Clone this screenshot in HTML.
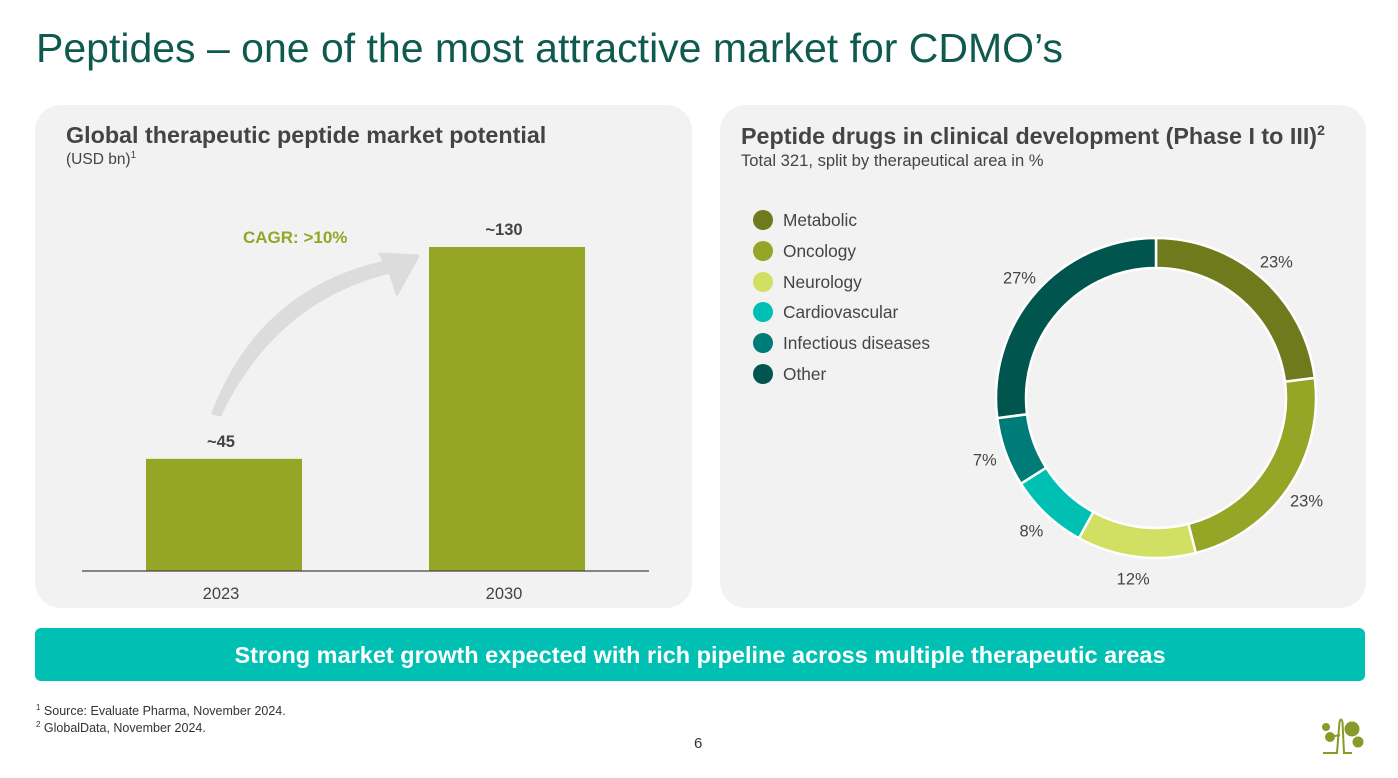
<!DOCTYPE html>
<html><head><meta charset="utf-8"><style>
body{margin:0;width:1398px;height:778px;background:#fff;font-family:"Liberation Sans",sans-serif;position:relative;overflow:hidden}
.abs{position:absolute}
.panel{position:absolute;background:#f2f2f2;border-radius:26px}
</style></head><body>
<div class="abs" style="left:36px;top:25px;font-size:41px;color:#0e5a4f">Peptides – one of the most attractive market for CDMO’s</div>

<div class="panel" style="left:35px;top:105px;width:657px;height:503px"></div>
<div class="abs" style="left:66px;top:122px;font-size:23.3px;font-weight:bold;color:#444;white-space:nowrap">Global therapeutic peptide market potential</div>
<div class="abs" style="left:66px;top:150px;font-size:15.5px;color:#444">(USD bn)<sup style="font-size:10px">1</sup></div>
<svg class="abs" style="left:0;top:0" width="700" height="620" id="bars"></svg>

<div class="panel" style="left:720px;top:105px;width:646px;height:503px"></div>
<div class="abs" style="left:741px;top:122px;font-size:23.3px;font-weight:bold;color:#444;white-space:nowrap">Peptide drugs in clinical development (Phase I to III)<sup style="font-size:14px">2</sup></div>
<div class="abs" style="left:741px;top:151px;font-size:16.6px;color:#444;white-space:nowrap">Total 321, split by therapeutical area in %</div>
<div class="abs" id="legend" style="left:753px;top:210px"></div>
<svg class="abs" style="left:0;top:0" width="1398" height="620" id="donut"></svg>

<div class="abs" style="left:35px;top:628px;width:1330px;height:53px;background:#00bfb3;border-radius:6px;color:#fff;font-weight:bold;font-size:23.5px;text-align:center;line-height:55px">Strong market growth expected with rich pipeline across multiple therapeutic areas</div>
<div class="abs" style="left:36px;top:703px;font-size:12.5px;color:#333"><sup style="font-size:8px">1</sup> Source: Evaluate Pharma, November 2024.</div>
<div class="abs" style="left:36px;top:720px;font-size:12.5px;color:#333"><sup style="font-size:8px">2</sup> GlobalData, November 2024.</div>
<div class="abs" style="left:694px;top:735px;font-size:15px;color:#333">6</div>
<svg class="abs" style="left:1318px;top:714px" width="50" height="44">
<g fill="#8a9a2a"><circle cx="8" cy="13" r="4"/><circle cx="12" cy="23" r="5"/><circle cx="34" cy="15" r="7.5"/><circle cx="40" cy="28" r="5.5"/></g>
<path d="M5 39H19L21.5 8Q23 3 24.5 8L26 39H34" stroke="#8a9a2a" stroke-width="2" fill="none"/>
<path d="M12 23L22 21" stroke="#8a9a2a" stroke-width="2"/>
</svg>

<script>
const years=["2023","2030"];
const values=[45,130];
const valueLabels=["~45","~130"];
const NS="http://www.w3.org/2000/svg";
function mk(p,t,a){const e=document.createElementNS(NS,t);for(const k in a)e.setAttribute(k,a[k]);p.appendChild(e);return e;}
const bs=document.getElementById('bars');
const base=571, scale=324/130;
const y=v=>base-v*scale;
const xC=[224,507];
const ar=mk(bs,'path',{d:'M213 413 Q260 290 385 262 L380 254 L418 256 L397 294 L390 272 Q275 300 220 415 Z',fill:'#dcdcdc','stroke':'#dcdcdc','stroke-width':'3','stroke-linejoin':'round'});


const cg=mk(bs,'text',{x:243,y:243,'font-size':17,'font-weight':'bold',fill:'#95a526'});cg.textContent='CAGR: >10%';


years.forEach((yr,i)=>{
 const r=mk(bs,'rect',{x:xC[i]-78,y:y(values[i]),width:156,height:base-y(values[i]),fill:'#95a526'});
 
 
 const t=mk(bs,'text',{x:xC[i]-3,y:y(values[i])-12,'text-anchor':'middle','font-size':16.5,'font-weight':'bold',fill:'#444'});t.textContent=valueLabels[i];
 
 
 const l=mk(bs,'text',{x:xC[i]-3,y:599,'text-anchor':'middle','font-size':16.5,fill:'#444'});l.textContent=yr;
 
 
});
const ax=mk(bs,'line',{x1:82,x2:649,y1:base,y2:base,stroke:'#444','stroke-width':1.2});



const areas=["Metabolic","Oncology","Neurology","Cardiovascular","Infectious diseases","Other"];
const shares=[23,23,12,8,7,27];
const colors=["#6e7a1c","#95a526","#d1df63","#00bfb3","#007c78","#00564f"];
const lg=document.getElementById('legend');
areas.forEach((a,i)=>{
 const d=document.createElement('div');
 d.style.cssText='position:absolute;left:0;top:'+(i*30.8)+'px;white-space:nowrap;font-size:17.3px;color:#444;line-height:20px';
 d.innerHTML='<span style="display:inline-block;width:20px;height:20px;border-radius:50%;background:'+colors[i]+';vertical-align:top;margin-right:10px"></span>'+a;
 
 
 lg.appendChild(d);
});
const ds=document.getElementById('donut');
const cx=1156,cy=398,R=160,r=130;
const total=shares.reduce((a,b)=>a+b,0);
let acc=0;
const pt=(rad,ang)=>[cx+rad*Math.sin(ang),cy-rad*Math.cos(ang)];
shares.forEach((s,i)=>{
 const a0=acc/total*2*Math.PI,a1=(acc+s)/total*2*Math.PI;acc+=s;
 const lf=(a1-a0)>Math.PI?1:0;
 const [x0,y0]=pt(R,a0),[x1,y1]=pt(R,a1),[x2,y2]=pt(r,a1),[x3,y3]=pt(r,a0);
 const p=mk(ds,'path',{d:`M${x0} ${y0}A${R} ${R} 0 ${lf} 1 ${x1} ${y1}L${x2} ${y2}A${r} ${r} 0 ${lf} 0 ${x3} ${y3}Z`,fill:colors[i],stroke:'#fff','stroke-width':2.5});
 
 
 const m=(a0+a1)/2;const [lx,ly]=pt(R+22,m);
 const t=mk(ds,'text',{x:lx,y:ly+6,'text-anchor':'middle','font-size':16.5,fill:'#444'});t.textContent=s+'%';
 
 
});
</script>
</body></html>
